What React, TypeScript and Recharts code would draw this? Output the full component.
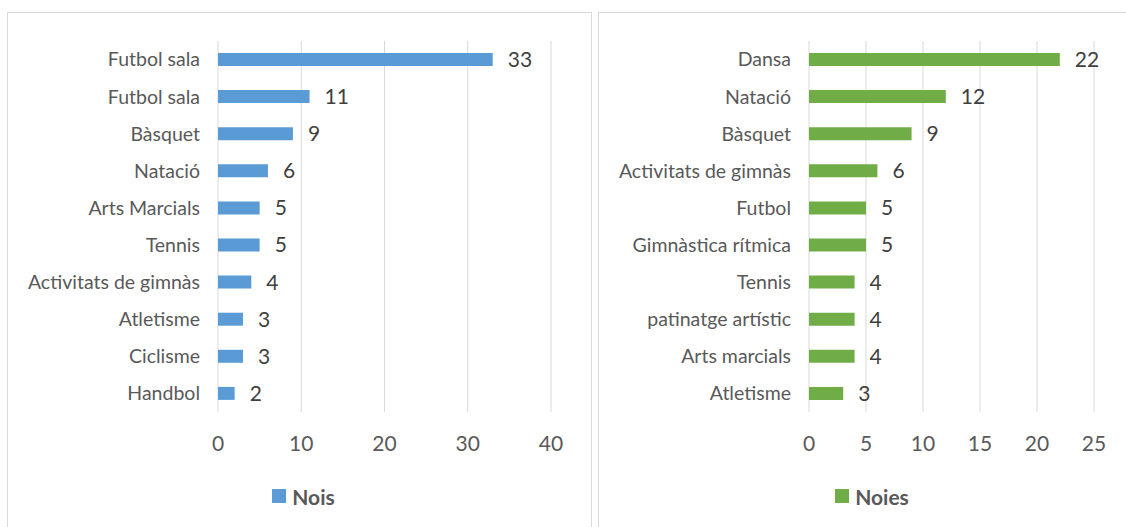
import React from "react";
import { BarChart, Bar, XAxis, YAxis, CartesianGrid, LabelList, Legend } from "recharts";

const boysSports = ["Futbol sala", "Futbol sala", "Bàsquet", "Natació", "Arts Marcials", "Tennis", "Activitats de gimnàs", "Atletisme", "Ciclisme", "Handbol"];
const boysValues = [33, 11, 9, 6, 5, 5, 4, 3, 3, 2];
const boysTicks = [0, 10, 20, 30, 40];

const girlsSports = ["Dansa", "Natació", "Bàsquet", "Activitats de gimnàs", "Futbol", "Gimnàstica rítmica", "Tennis", "patinatge artístic", "Arts marcials", "Atletisme"];
const girlsValues = [22, 12, 9, 6, 5, 5, 4, 4, 4, 3];
const girlsTicks = [0, 5, 10, 15, 20, 25];

const FONT = "Lato, 'Open Sans', sans-serif";
const GRID = "#d9d9d9";
const TEXT = "#595959";

const boysData = boysSports.map((name, i) => ({ name, value: boysValues[i] }));
const girlsData = girlsSports.map((name, i) => ({ name, value: girlsValues[i] }));

function makeLegend(label: string, color: string, shift: number) {
  return () => (
    <div style={{ display: "flex", justifyContent: "center", alignItems: "center", paddingLeft: shift, height: 24, fontFamily: FONT }}>
      <span style={{ display: "inline-block", width: 14, height: 14, background: color, marginRight: 6 }} />
      <span style={{ color: TEXT, fontWeight: 700, fontSize: 21 }}>{label}</span>
    </div>
  );
}

type PanelProps = {
  data: { name: string; value: number }[];
  ticks: number[];
  color: string;
  label: string;
  width: number;
  rightMargin: number;
  legendShift: number;
};

function Panel({ data, ticks, color, label, width, rightMargin, legendShift }: PanelProps) {
  return (
    <BarChart
      width={width}
      height={520}
      data={data}
      layout="vertical"
      margin={{ top: 28, right: rightMargin, left: 0, bottom: 25 }}
      style={{ fontFamily: FONT }}
    >
      <CartesianGrid horizontal={false} vertical={true} stroke={GRID} strokeWidth={1} />
      <XAxis
        type="number"
        domain={[ticks[0], ticks[ticks.length - 1]]}
        ticks={ticks}
        axisLine={false}
        tickLine={false}
        tickSize={0}
        tickMargin={24}
        height={72}
        tick={{ fill: TEXT, fontSize: 21, fontFamily: FONT }}
      />
      <YAxis
        type="category"
        dataKey="name"
        width={210}
        axisLine={false}
        tickLine={false}
        tickSize={0}
        tickMargin={18}
        interval={0}
        tick={{ fill: TEXT, fontSize: 19.5, fontFamily: FONT }}
      />
      <Legend verticalAlign="bottom" height={24} content={makeLegend(label, color, legendShift)} wrapperStyle={{ left: 0, width: "100%" }} />
      <Bar dataKey="value" fill={color} barSize={13} isAnimationActive={false}>
        <LabelList dataKey="value" position="right" offset={15} fill="#404040" fontSize={21} fontFamily={FONT} />
      </Bar>
    </BarChart>
  );
}

export default function App() {
  return (
    <div style={{ position: "absolute", left: 0, top: 0, width: 1126, height: 527, overflow: "hidden", background: "#fff" }}>
      <div style={{ position: "absolute", left: 7, top: 12, width: 583, height: 520, border: `1px solid ${GRID}` }}>
        <Panel data={boysData} ticks={boysTicks} color="#5B9BD5" label="Nois" width={583} rightMargin={40} legendShift={8} />
      </div>
      <div style={{ position: "absolute", left: 598, top: 12, width: 546, height: 520, border: `1px solid ${GRID}` }}>
        <Panel data={girlsData} ticks={girlsTicks} color="#70AD47" label="Noies" width={546} rightMargin={51} legendShift={0} />
      </div>
    </div>
  );
}
